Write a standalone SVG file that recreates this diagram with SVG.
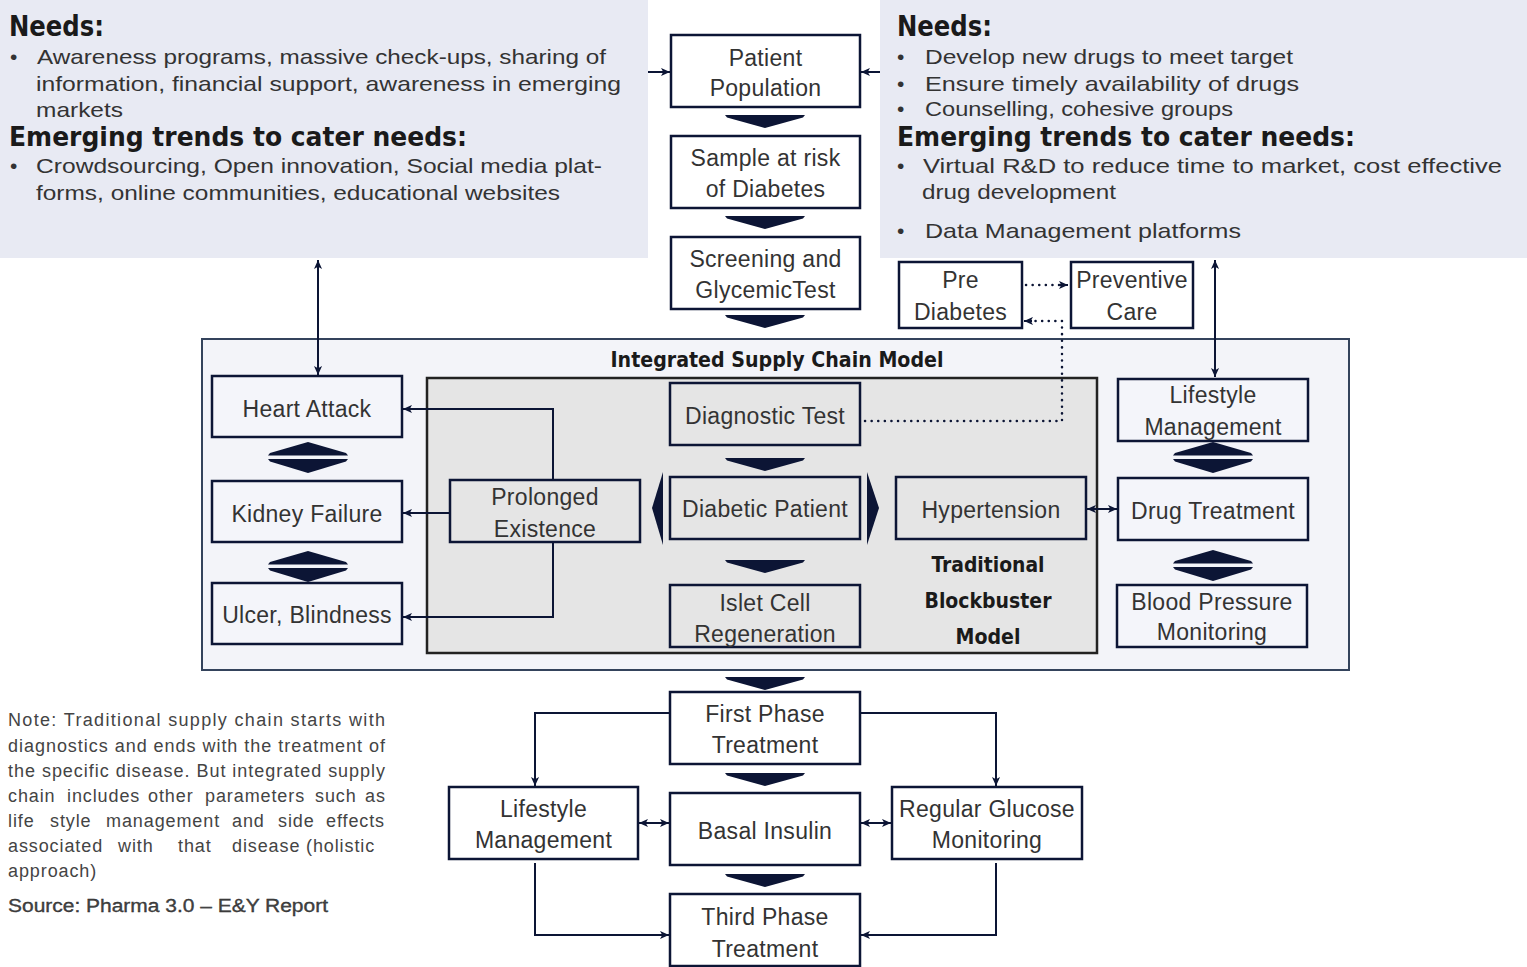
<svg xmlns="http://www.w3.org/2000/svg" width="1527" height="967" viewBox="0 0 1527 967">
<style>
.bg{fill:#ffffff}
.panel{fill:#e8eaf3}
.box{fill:#ffffff;stroke:#0c1535;stroke-width:2.5}
.boxo{fill:#f4f5fa;stroke:#0c1535;stroke-width:2.5}
.boxg{fill:#e5e5e5;stroke:#0c1535;stroke-width:2.5}
.t{font-family:"Liberation Sans",Arial,sans-serif;font-size:23px;fill:#333;text-anchor:middle;letter-spacing:0.3px}
.h{font-family:"DejaVu Sans Condensed","Liberation Sans Narrow","Liberation Sans",sans-serif;font-weight:bold;fill:#1a1a1a}
.b{font-family:"Liberation Sans",Arial,sans-serif;font-size:21px;fill:#333}
.n{font-family:"Liberation Sans",Arial,sans-serif;font-size:18px;fill:#444}
.nw{letter-spacing:0.9px}
.c{fill:none;stroke:#0c1535;stroke-width:2}
.d{fill:none;stroke:#0c1535;stroke-width:2.5;stroke-dasharray:0.1 6.5;stroke-linecap:round}
.chev{fill:#0c1535}
</style>
<defs>
<marker id="ah" viewBox="0 0 10 10" refX="10" refY="5" markerWidth="9" markerHeight="9" markerUnits="userSpaceOnUse" orient="auto-start-reverse">
<path d="M0,0.5 L10,5 L0,9.5 L2.5,5 Z" fill="#0c1535"/>
</marker>
<polygon id="chev" points="-40,0 40,0 38,2.5 0,13 -38,2.5"/>
<g id="dchev">
<polygon points="0,0 38,11 40,13.5 -40,13.5 -38,11"/>
<polygon points="-40,17 40,17 38,19.5 0,31 -38,19.5"/>
</g>
</defs>
<rect class="bg" x="0" y="0" width="1527" height="967"/>

<!-- Top-left panel -->
<g id="panel-left">
<rect class="panel" x="0" y="0" width="648" height="258"/>
<text class="h" x="9" y="36" font-size="28" textLength="95" lengthAdjust="spacingAndGlyphs">Needs:</text>
<text class="b" x="10" y="64">•</text>
<text class="b" x="37" y="64" textLength="569" lengthAdjust="spacingAndGlyphs">Awareness programs,  massive check-ups, sharing of</text>
<text class="b" x="36" y="91" textLength="585" lengthAdjust="spacingAndGlyphs">information, financial support, awareness in emerging</text>
<text class="b" x="36" y="117" textLength="87" lengthAdjust="spacingAndGlyphs">markets</text>
<text class="h" x="9" y="146" font-size="26" textLength="458" lengthAdjust="spacingAndGlyphs">Emerging trends to cater needs:</text>
<text class="b" x="10" y="173">•</text>
<text class="b" x="36" y="173" textLength="566" lengthAdjust="spacingAndGlyphs">Crowdsourcing, Open innovation, Social media plat-</text>
<text class="b" x="36" y="200" textLength="524" lengthAdjust="spacingAndGlyphs">forms, online communities, educational websites</text>
</g>

<!-- Top-right panel -->
<g id="panel-right">
<rect class="panel" x="880" y="0" width="647" height="258"/>
<text class="h" x="897" y="36" font-size="28" textLength="95" lengthAdjust="spacingAndGlyphs">Needs:</text>
<text class="b" x="897" y="64">•</text>
<text class="b" x="925" y="64" textLength="368" lengthAdjust="spacingAndGlyphs">Develop new drugs to meet target</text>
<text class="b" x="897" y="91">•</text>
<text class="b" x="925" y="91" textLength="374" lengthAdjust="spacingAndGlyphs">Ensure timely availability of drugs</text>
<text class="b" x="897" y="116">•</text>
<text class="b" x="925" y="116" textLength="308" lengthAdjust="spacingAndGlyphs">Counselling, cohesive groups</text>
<text class="h" x="897" y="146" font-size="26" textLength="458" lengthAdjust="spacingAndGlyphs">Emerging trends to cater needs:</text>
<text class="b" x="897" y="173">•</text>
<text class="b" x="923" y="173" textLength="579" lengthAdjust="spacingAndGlyphs">Virtual R&amp;D to reduce time to market, cost effective</text>
<text class="b" x="922" y="199" textLength="194" lengthAdjust="spacingAndGlyphs">drug development</text>
<text class="b" x="897" y="238">•</text>
<text class="b" x="925" y="238" textLength="316" lengthAdjust="spacingAndGlyphs">Data Management platforms</text>
</g>

<!-- Integrated supply chain container -->
<g id="integrated">
<rect x="202" y="339" width="1147" height="331" fill="#f3f4f9" stroke="#34435c" stroke-width="2"/>
<text class="h" x="777" y="367" font-size="22" text-anchor="middle" textLength="333" lengthAdjust="spacingAndGlyphs">Integrated Supply Chain Model</text>
</g>
<g id="traditional">
<rect x="427" y="378" width="670" height="275" fill="#e5e5e5" stroke="#222" stroke-width="2.5"/>
<text class="h" x="988" y="572" font-size="22" text-anchor="middle" textLength="113" lengthAdjust="spacingAndGlyphs">Traditional</text>
<text class="h" x="988" y="608" font-size="22" text-anchor="middle" textLength="127" lengthAdjust="spacingAndGlyphs">Blockbuster</text>
<text class="h" x="988" y="644" font-size="22" text-anchor="middle" textLength="65" lengthAdjust="spacingAndGlyphs">Model</text>
</g>

<!-- Center column -->
<g id="patient-population"><rect class="box" x="671" y="35" width="189" height="72"/><text class="t" x="765.5" y="66">Patient</text><text class="t" x="765.5" y="96">Population</text></g>
<g id="sample-at-risk"><rect class="box" x="671" y="136" width="189" height="72"/><text class="t" x="765.5" y="166">Sample at risk</text><text class="t" x="765.5" y="197">of Diabetes</text></g>
<g id="screening"><rect class="box" x="671" y="237" width="189" height="72"/><text class="t" x="765.5" y="267">Screening and</text><text class="t" x="765.5" y="298">GlycemicTest</text></g>

<g id="pre-diabetes"><rect class="box" x="899" y="262" width="123" height="66"/><text class="t" x="960.5" y="288">Pre</text><text class="t" x="960.5" y="320">Diabetes</text></g>
<g id="preventive-care"><rect class="box" x="1071" y="262" width="122" height="66"/><text class="t" x="1132" y="288">Preventive</text><text class="t" x="1132" y="320">Care</text></g>

<!-- Left column -->
<g id="heart-attack"><rect class="boxo" x="212" y="376" width="190" height="61"/><text class="t" x="307" y="417">Heart Attack</text></g>
<g id="kidney-failure"><rect class="boxo" x="212" y="481" width="190" height="61"/><text class="t" x="307" y="522">Kidney Failure</text></g>
<g id="ulcer-blindness"><rect class="boxo" x="212" y="583" width="190" height="61"/><text class="t" x="307" y="623">Ulcer, Blindness</text></g>

<!-- Inner nodes -->
<g id="prolonged-existence"><rect class="boxg" x="450" y="480" width="190" height="62"/><text class="t" x="545" y="505">Prolonged</text><text class="t" x="545" y="537">Existence</text></g>
<g id="diagnostic-test"><rect class="boxg" x="670" y="383" width="190" height="62"/><text class="t" x="765" y="424">Diagnostic Test</text></g>
<g id="diabetic-patient"><rect class="boxg" x="670" y="477" width="190" height="62"/><text class="t" x="765" y="517">Diabetic Patient</text></g>
<g id="islet-cell"><rect class="boxg" x="670" y="585" width="190" height="62"/><text class="t" x="765" y="611">Islet Cell</text><text class="t" x="765" y="642">Regeneration</text></g>
<g id="hypertension"><rect class="boxg" x="896" y="477" width="190" height="62"/><text class="t" x="991" y="518">Hypertension</text></g>

<!-- Right column -->
<g id="lifestyle-management-right"><rect class="boxo" x="1118" y="379" width="190" height="62"/><text class="t" x="1213" y="403">Lifestyle</text><text class="t" x="1213" y="435">Management</text></g>
<g id="drug-treatment"><rect class="boxo" x="1118" y="478" width="190" height="62"/><text class="t" x="1213" y="519">Drug Treatment</text></g>
<g id="blood-pressure"><rect class="boxo" x="1117" y="585" width="190" height="62"/><text class="t" x="1212" y="610">Blood Pressure</text><text class="t" x="1212" y="640">Monitoring</text></g>

<!-- Bottom -->
<g id="first-phase"><rect class="box" x="670" y="692" width="190" height="72"/><text class="t" x="765" y="722">First Phase</text><text class="t" x="765" y="753">Treatment</text></g>
<g id="lifestyle-management-bottom"><rect class="box" x="449" y="787" width="189" height="72"/><text class="t" x="543.5" y="817">Lifestyle</text><text class="t" x="543.5" y="848">Management</text></g>
<g id="basal-insulin"><rect class="box" x="670" y="793" width="190" height="72"/><text class="t" x="765" y="839">Basal Insulin</text></g>
<g id="regular-glucose"><rect class="box" x="892" y="787" width="190" height="72"/><text class="t" x="987" y="817">Regular Glucose</text><text class="t" x="987" y="848">Monitoring</text></g>
<g id="third-phase"><rect class="box" x="670" y="894" width="190" height="72"/><text class="t" x="765" y="925">Third Phase</text><text class="t" x="765" y="957">Treatment</text></g>

<!-- Note -->
<g id="note">
<text class="n" x="8" y="726" textLength="377" lengthAdjust="spacing">Note: Traditional supply chain starts with</text>
<text class="n" x="8" y="752" textLength="377" lengthAdjust="spacing">diagnostics and ends with the treatment of</text>
<text class="n" x="8" y="777" textLength="377" lengthAdjust="spacing">the specific disease. But integrated supply</text>
<text class="n nw" y="802"><tspan x="8">chain</tspan><tspan x="67">includes</tspan><tspan x="148">other</tspan><tspan x="205">parameters</tspan><tspan x="315">such</tspan><tspan x="365">as</tspan></text>
<text class="n nw" y="827"><tspan x="8">life</tspan><tspan x="50">style</tspan><tspan x="106">management</tspan><tspan x="232">and</tspan><tspan x="278">side</tspan><tspan x="326">effects</tspan></text>
<text class="n nw" y="852"><tspan x="8">associated</tspan><tspan x="118">with</tspan><tspan x="178">that</tspan><tspan x="232">disease</tspan><tspan x="306">(holistic</tspan></text>
<text class="n nw" x="8" y="877">approach)</text>
<text class="n" x="8" y="912" font-size="19" fill="#222" stroke="#222" stroke-width="0.3" textLength="320" lengthAdjust="spacingAndGlyphs">Source:  Pharma 3.0 – E&amp;Y Report</text>
</g>

<!-- Connectors -->
<g id="connectors">
<g class="chev">
<use href="#chev" x="765" y="115"/>
<use href="#chev" x="765" y="216"/>
<use href="#chev" x="765" y="315"/>
<use href="#chev" x="765" y="458"/>
<use href="#chev" x="765" y="560"/>
<use href="#chev" x="765" y="677"/>
<use href="#chev" x="765" y="773"/>
<use href="#chev" x="765" y="874"/>
<use href="#dchev" x="308" y="442"/>
<use href="#dchev" x="308" y="551"/>
<use href="#dchev" x="1213" y="442"/>
<use href="#dchev" x="1213" y="550"/>
<polygon points="663,472 663,545 652,508"/>
<polygon points="867,472 867,545 879,508"/>
</g>
<line class="c" x1="648" y1="72" x2="670" y2="72" marker-end="url(#ah)"/>
<line class="c" x1="880" y1="72" x2="861" y2="72" marker-end="url(#ah)"/>
<line class="c" x1="318" y1="260" x2="318" y2="375" marker-start="url(#ah)" marker-end="url(#ah)"/>
<line class="c" x1="1215" y1="260" x2="1215" y2="377" marker-start="url(#ah)" marker-end="url(#ah)"/>
<line class="d" x1="1026" y1="285" x2="1060" y2="285"/>
<line class="c" x1="1060" y1="285" x2="1068" y2="285" marker-end="url(#ah)" stroke-width="1"/>
<polyline class="d" points="865,421 1062,421 1062,321 1032,321"/>
<line class="c" x1="1032" y1="321" x2="1024" y2="321" marker-end="url(#ah)" stroke-width="1"/>
<polyline class="c" points="553,480 553,409 403,409" marker-end="url(#ah)"/>
<line class="c" x1="450" y1="513" x2="403" y2="513" marker-end="url(#ah)"/>
<polyline class="c" points="553,542 553,617 403,617" marker-end="url(#ah)"/>
<line class="c" x1="1087" y1="509" x2="1117" y2="509" marker-start="url(#ah)" marker-end="url(#ah)"/>
<polyline class="c" points="670,713 535,713 535,786" marker-end="url(#ah)"/>
<polyline class="c" points="860,713 996,713 996,786" marker-end="url(#ah)"/>
<line class="c" x1="639" y1="823" x2="669" y2="823" marker-start="url(#ah)" marker-end="url(#ah)"/>
<line class="c" x1="861" y1="823" x2="891" y2="823" marker-start="url(#ah)" marker-end="url(#ah)"/>
<polyline class="c" points="535,863 535,935 669,935" marker-end="url(#ah)"/>
<polyline class="c" points="996,863 996,935 861,935" marker-end="url(#ah)"/>
</g>
</svg>
